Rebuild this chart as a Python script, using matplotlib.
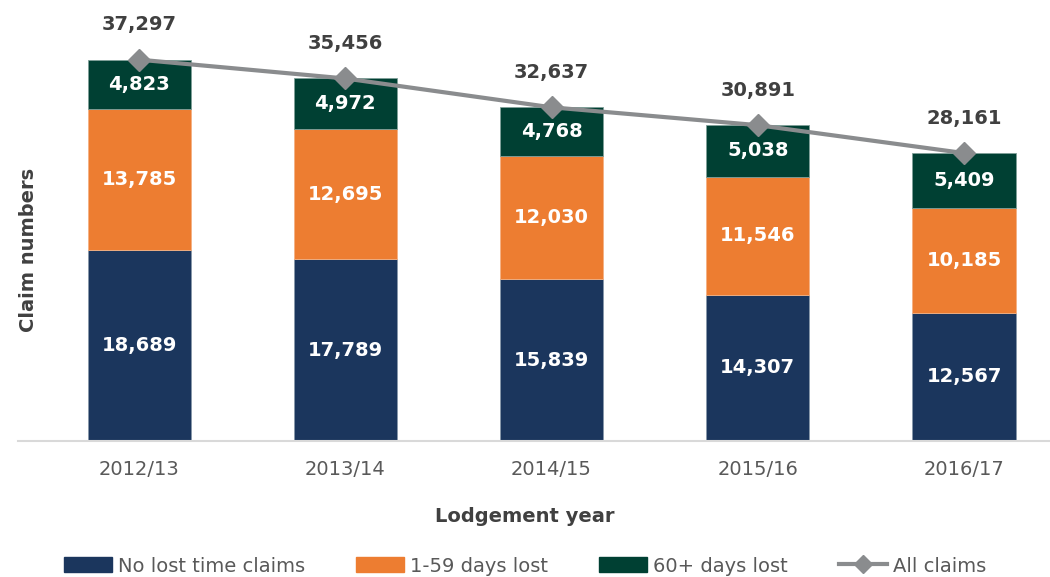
import matplotlib
matplotlib.use("Agg")
import matplotlib.pyplot as plt
from matplotlib.lines import Line2D
from matplotlib.patches import Patch

years = ["2012/13", "2013/14", "2014/15", "2015/16", "2016/17"]
no_lost = [18689, 17789, 15839, 14307, 12567]
days_1_59 = [13785, 12695, 12030, 11546, 10185]
days_60 = [4823, 4972, 4768, 5038, 5409]
all_claims = [37297, 35456, 32637, 30891, 28161]

c_navy = "#1B365D"
c_orange = "#ED7D31"
c_green = "#004033"
c_line = "#8A8C8E"
c_text = "#404040"

plt.rcParams['font.family'] = ['DejaVu Sans']

fig = plt.figure(figsize=(10.5, 5.77), dpi=100)
ax = fig.add_axes([18 / 1050, 0.2357, 1 - 18 / 1050, 0.7088])

x = list(range(len(years)))
w = 0.5
ax.bar(x, no_lost, w, color=c_navy, edgecolor="#8898AA", linewidth=0.6)
ax.bar(x, days_1_59, w, bottom=no_lost, color=c_orange, edgecolor="#F4B183", linewidth=0.6)
bot3 = [a + b for a, b in zip(no_lost, days_1_59)]
ax.bar(x, days_60, w, bottom=bot3, color=c_green, edgecolor="#7F9F99", linewidth=0.6)

ax.plot(x, all_claims, color=c_line, lw=3, marker="D", markersize=11, zorder=5)

lab_kw = dict(color="white", fontsize=14, fontweight="bold", ha="center", va="center")
for i in x:
    ax.text(i, no_lost[i] / 2, f"{no_lost[i]:,}", **lab_kw)
    ax.text(i, no_lost[i] + days_1_59[i] / 2, f"{days_1_59[i]:,}", **lab_kw)
    ax.text(i, bot3[i] + days_60[i] / 2, f"{days_60[i]:,}", **lab_kw)
    ax.annotate(f"{all_claims[i]:,}", (i, all_claims[i]), xytext=(0, 25), textcoords="offset points",
                ha="center", va="center", color=c_text, fontsize=14, fontweight="bold")

ax.set_xlim(-0.587, 4.417)
ax.set_ylim(0, 40000)
for s in ["top", "right", "left"]:
    ax.spines[s].set_visible(False)
ax.spines["bottom"].set_color("#D9D9D9")
ax.spines["bottom"].set_linewidth(1.5)
ax.set_yticks([])
ax.set_xticks(x)
ax.set_xticklabels(years, color="#595959", fontsize=14)
ax.tick_params(axis="x", length=0, pad=14)

fig.text(0.5, (577 - 517) / 577, "Lodgement year", ha="center", va="center", fontsize=14,
         fontweight="bold", color=c_text)
fig.text(28 / 1050, 1 - 250 / 577, "Claim numbers", ha="center", va="center", rotation=90,
         fontsize=14, fontweight="bold", color=c_text)

handles = [Patch(color=c_navy), Patch(color=c_orange), Patch(color=c_green),
           Line2D([0], [0], color=c_line, lw=3, marker="D", markersize=9)]
labels = ["No lost time claims", "1-59 days lost", "60+ days lost", "All claims"]
fig.legend(handles, labels, loc="center", bbox_to_anchor=(0.5, 1 - 566 / 577), ncol=4, frameon=False,
           fontsize=14, handlelength=2.5, handleheight=0.8, columnspacing=2.6, handletextpad=0.3,
           labelcolor="#595959")

fig.savefig("out.png", dpi=100)
